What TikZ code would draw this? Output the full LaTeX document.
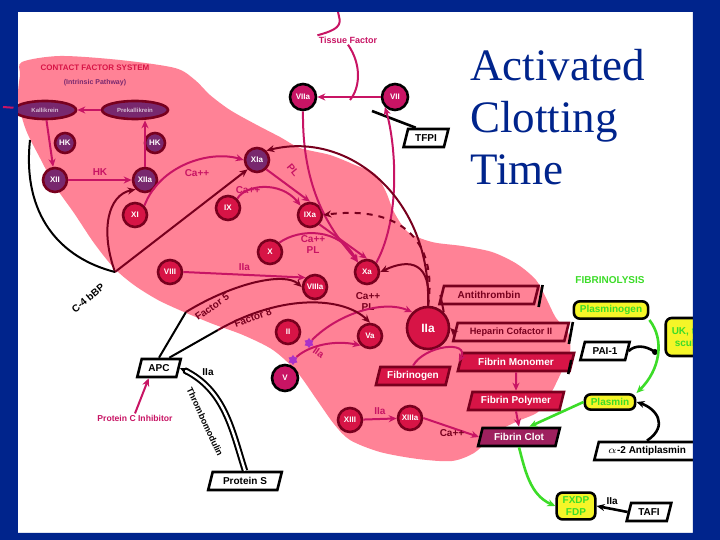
\documentclass[tikz,border=0pt]{standalone}
\usepackage{fontspec}
\setmainfont{Liberation Serif}
\setsansfont{Liberation Sans}
\usetikzlibrary{shapes.geometric,arrows.meta}
\definecolor{navy}{RGB}{0,36,140}
\definecolor{blob}{RGB}{255,130,150}
\definecolor{crim}{RGB}{215,20,70}
\definecolor{dred}{RGB}{120,0,30}
\definecolor{mag}{RGB}{200,20,100}
\definecolor{purp}{RGB}{120,40,110}
\definecolor{gr}{RGB}{60,220,40}
\definecolor{yel}{RGB}{245,245,40}
\definecolor{starc}{RGB}{170,50,200}
\tikzset{
 fac/.style={circle, draw=dred, line width=1.3pt, fill=crim, minimum size=12pt, inner sep=0pt, font=\fontsize{4}{4}\sffamily\bfseries, text=white},
 facp/.style={fac, fill=purp},
 bigc/.style={fac, minimum size=21pt, font=\fontsize{6}{6}\sffamily\bfseries},
 topc/.style={circle, draw=black, line width=1.3pt, fill=mag, minimum size=13pt, inner sep=0pt, font=\fontsize{4}{4}\sffamily\bfseries, text=white},
 ell/.style={ellipse, draw=dred, line width=1.3pt, fill=purp, minimum width=31pt, minimum height=9pt, inner sep=0pt, font=\fontsize{3}{3}\sffamily\bfseries, text=white!70!purp},
 pbox/.style={trapezium, trapezium left angle=76, trapezium right angle=104, draw=dred, line width=1.3pt, fill=crim, text=white, font=\fontsize{5}{6}\sffamily\bfseries, inner xsep=1pt, inner ysep=1.5pt, minimum height=9pt},
 abox/.style={pbox, fill=blob, text=dred},
 wbox/.style={pbox, draw=black, fill=white, text=black},
 ybox/.style={rectangle, rounded corners=3pt, draw=black, line width=1.3pt, fill=yel, text=gr, font=\fontsize{5}{6}\sffamily\bfseries, inner xsep=3pt, inner ysep=2pt, align=center},
 lab/.style={font=\fontsize{5}{5.5}\sffamily\bfseries, text=mag, inner sep=0.5pt, align=center},
 blab/.style={lab, text=black},
 magl/.style={draw=mag, line width=1pt},
 dkl/.style={draw=dred, line width=1pt},
 blkl/.style={draw=black, line width=1pt},
 grl/.style={draw=gr, line width=1.3pt},
 tip/.style={-{Stealth[length=4pt,width=3.5pt]}},
 starm/.style={star, star points=6, fill=starc, minimum size=5pt, inner sep=0pt},
 ttl/.style={font=\fontsize{22.5}{26}\selectfont, text=navy, anchor=base west, inner sep=0pt},
}
\begin{document}
\begin{tikzpicture}[x=0.5pt,y=-0.5pt]
\useasboundingbox (0,0) rectangle (720,540);
\fill[white] (0,0) rectangle (720,540);
% pink blob
\fill[blob] plot[smooth cycle, tension=0.5] coordinates {(22,62) (60,56) (120,60) (175,68) (195,80) (210,95) (230,110) (255,124) (280,137) (300,148) (330,155) (355,165) (375,174) (386,192) (394,212) (408,232) (432,242) (462,246) (492,252) (517,264) (536,280) (546,298) (556,318) (568,332) (570,352) (561,373) (550,395) (538,412) (518,421) (500,430) (488,440) (474,453) (452,461) (418,459) (380,452) (350,440) (334,424) (317,400) (297,372) (273,350) (243,335) (213,324) (184,312) (158,300) (134,285) (114,268) (94,243) (74,213) (55,186) (40,158) (26,130) (18,100) (20,75)};

% title
\node[ttl] (t1) at (470,81) {Activated};
\node[ttl] (t2) at (470,133) {Clotting};
\node[ttl] (t3) at (470,185) {Time};

% contact system
\node[lab, text=crim, font=\fontsize{4}{4.5}\sffamily\bfseries] (cfs) at (95,68) {CONTACT FACTOR SYSTEM};
\node[lab, text=purp, font=\fontsize{3.5}{4}\sffamily\bfseries] (ip) at (95,83) {(Intrinsic Pathway)};
\node[ell] (PK) at (45,110) {Kallikrein};
\node[ell, minimum width=33pt] (PPK) at (135,110) {Prekallikrein};
\node[facp, minimum size=10pt] (HK1) at (65,143) {HK};
\node[facp, minimum size=10pt] (HK2) at (155,143) {HK};
\node[facp] (XII) at (55,180) {XII};
\node[facp] (XIIa) at (145,180) {XIIa};
\node[fac] (XI) at (135,215) {XI};
\node[facp] (XIa) at (257,160) {XIa};
\node[fac] (IX) at (228,208) {IX};
\node[fac] (IXa) at (310,215) {IXa};
\node[fac] (X) at (270,252) {X};
\node[fac] (Xa) at (367,272) {Xa};
\node[fac] (VIII) at (170,272) {VIII};
\node[fac] (VIIIa) at (315,287) {VIIIa};
\node[fac] (II) at (288,332) {II};
\node[fac] (Va) at (370,336) {Va};
\node[topc] (V) at (285,378) {V};
\node[bigc] (IIa) at (428,328) {IIa};
\node[fac] (XIII) at (350,420) {XIII};
\node[fac] (XIIIa) at (410,418) {XIIIa};
\node[topc] (VIIa) at (303,97) {VIIa};
\node[topc] (VII) at (395,97) {VII};

\draw[magl,tip] (PPK) -- (PK);
\draw[magl,tip] (PK) -- (XII);
\draw[magl,tip] (XIIa.north) -- (XIIa.north |- PPK.south);
\draw[magl,tip] (XII) -- node[lab, above=1pt]{HK} (XIIa);
\draw[magl,tip] (XI.north east) .. controls (160,165) and (210,150) .. (XIa.west);
\node[lab] (ca1) at (197,173) {Ca++};
\draw[magl,tip] (IX.north east) .. controls (245,185) and (280,180) .. (IXa.north west);
\draw[magl,tip] (XIa.south east) -- (IXa.north);
\node[lab] (ca2) at (248,190) {Ca++};
\node[lab, rotate=-50] (pl1) at (293,170) {PL};
\draw[magl,tip] (X.north east) .. controls (300,228) and (340,228) .. (Xa.north west);
\draw[magl,tip] (IXa.south east) -- (Xa.north);
\node[lab] (capl1) at (313,245) {Ca++\\PL};
\draw[magl,tip] (VIII.east) -- node[lab, above=1pt]{IIa} (VIIIa.north west);
\node[lab, text=dred] (capl2) at (368,302) {Ca++\\PL};
\node[starm] (s1) at (309,343) {};
\node[starm] (s2) at (293,360) {};
\draw[magl,tip] (s1) .. controls (340,312) and (385,300) .. (IIa.north west);
\draw[magl,tip] (s2) .. controls (310,345) and (335,340) .. node[lab, rotate=-35, below=2pt]{IIa} (Va.south west);
\draw[magl,tip] (XIII) -- node[lab, above=1pt]{IIa} (XIIIa);

% tissue factor
\coordinate (tftop) at (338,12);
\node[lab, font=\fontsize{4.5}{5}\sffamily\bfseries] (TF) at (348,40) {Tissue Factor};
\coordinate (tfj) at (350,100);
\draw[magl] (tftop) .. controls (340,22) and (345,28) .. (TF.north west);
\draw[magl] (TF.south) .. controls (362,65) and (360,88) .. (tfj);
\draw[magl,tip] (VII) -- (VIIa);
\node[wbox] (TFPI) at (426,138) {TFPI};
\coordinate (tfpiend) at (372,111);
\draw[blkl, line width=1.3pt] (TFPI.north west) -- (tfpiend);
\draw[magl,tip] (Xa.north east) .. controls (402,215) and (395,140) .. (VII.south west);
\draw[magl,tip] (VIIa.south) .. controls (302,190) and (330,230) .. (Xa);

% feedback from thrombin
\draw[dkl,tip] (IIa.north) .. controls (432,200) and (350,130) .. (XIa.north east);
\draw[dkl,dashed,tip] (IIa.north) .. controls (438,240) and (400,205) .. (IXa.east);
\draw[dkl,tip] (IIa.north) .. controls (432,262) and (410,258) .. (Xa.east);

% left arcs
\coordinate (c4) at (115,272);
\coordinate (lft) at (30,140);
\draw[dkl,tip] (c4) -- (XIa.south west);
\draw[dkl,tip] (c4) .. controls (100,230) and (108,195) .. (XIIa.south west);
\draw[blkl] (lft) .. controls (22,215) and (60,258) .. (c4);
\node[blab, rotate=40] (c4bbp) at (88,298) {C-4 bBP};

% APC system
\node[wbox] (APC) at (159,368) {APC};
\coordinate (f8a) at (186,312);
\coordinate (f5a) at (218,330);
\draw[blkl] (APC.north) -- (f8a);
\draw[dkl,tip] (f8a) .. controls (235,282) and (285,272) .. (VIIIa.west);
\draw[blkl] (APC.north east) -- (f5a);
\draw[dkl,tip] (f5a) .. controls (285,292) and (345,298) .. (Va.north);
\node[lab, text=dred, rotate=35] (fv) at (212,307) {Factor 5};
\node[lab, text=dred, rotate=20] (fviii) at (253,318) {Factor 8};
\node[lab, text=mag, font=\fontsize{4.3}{5}\sffamily\bfseries] (PCI) at (135,418) {Protein C Inhibitor};
\draw[magl,tip] (PCI.north) -- (APC.south west);
\node[wbox] (PS) at (245,481) {Protein S};
\draw[black, line width=1pt, double=white, double distance=1.2pt, tip] (PS.north) .. controls (232,430) and (225,390) .. (APC.east);
\node[blab] (iia2) at (208,372) {IIa};
\node[blab, rotate=-65, font=\fontsize{4.5}{5}\sffamily\bfseries] (tm) at (205,422) {Thrombomodulin};

% fibrin formation
\node[abox] (AT) at (489,295) {Antithrombin};
\node[abox, font=\fontsize{4.6}{5}\sffamily\bfseries] (HC) at (511,332) {Heparin Cofactor II};
\node[pbox] (FM) at (516,362) {Fibrin Monomer};
\node[pbox] (FG) at (413,376) {Fibrinogen};
\node[pbox] (FP) at (516,401) {Fibrin Polymer};
\node[pbox, draw=black, fill=purp!60!crim] (FC) at (519,437) {Fibrin Clot};
\draw[blkl, line width=1.3pt] (AT.east) ++(5,-10) -- ++(-4,22);
\draw[blkl, line width=1.3pt] (HC.east) ++(5,-10) -- ++(-4,22);
\draw[blkl, line width=1.3pt] (FM.east) ++(-2,-2) -- ++(-3,14);
\draw[dkl] (IIa.north east) -- (AT.west);
\draw[dkl,tip] (HC.west) -- (IIa.east);
\draw[magl,tip] (FG.north) .. controls (425,345) and (470,340) .. (FM.west);
\draw[magl,tip] (FM.south) -- (FP.north);
\draw[magl,tip] (FP.south) -- (FC.north);
\draw[magl,tip] (XIIIa.east) -- (FC.west);
\node[lab, text=dred] (ca3) at (452,433) {Ca++};

% fibrinolysis
\node[lab, text=gr, font=\fontsize{5}{5.5}\sffamily\bfseries] (FIB) at (610,280) {FIBRINOLYSIS};
\node[ybox] (PLG) at (611,310) {Plasminogen};
\node[ybox, minimum height=19pt] (UK) at (690,337) {UK, tPA\\scuPA};
\node[wbox] (PAI) at (605,351) {PAI-1};
\node[ybox] (PLM) at (610,402) {Plasmin};
\node[wbox] (A2AP) at (647,451) {$\alpha$-2 Antiplasmin};
\node[ybox] (FDP) at (576,506) {FXDP\\FDP};
\node[wbox] (TAFI) at (649,512) {TAFI};
\coordinate (paiend) at (655,352);
\draw[blkl, line width=1.3pt] (PAI.east) .. controls (635,345) and (645,345) .. (paiend);
\fill[black] (paiend) circle (3);
\draw[grl,tip] (PLG.south east) .. controls (665,340) and (660,370) .. (PLM.north east);
\draw[grl,tip] (PLM.west) -- (FC.north east);
\draw[grl,tip] (FC.south) .. controls (525,470) and (530,495) .. (FDP.west);
\draw[blkl, line width=1.3pt, tip] (A2AP.north) .. controls (670,425) and (655,408) .. (PLM.east);
\draw[blkl, line width=1.3pt, tip] (TAFI.west) -- node[blab, above=1pt]{IIa} (FDP.east);

% frame
\fill[navy, even odd rule] (0,0) rectangle (720,540) (18,12) rectangle (693,533);
\coordinate (lin) at (3,107);
\draw[magl] (lin) -- (PK);
\end{tikzpicture}
\end{document}
